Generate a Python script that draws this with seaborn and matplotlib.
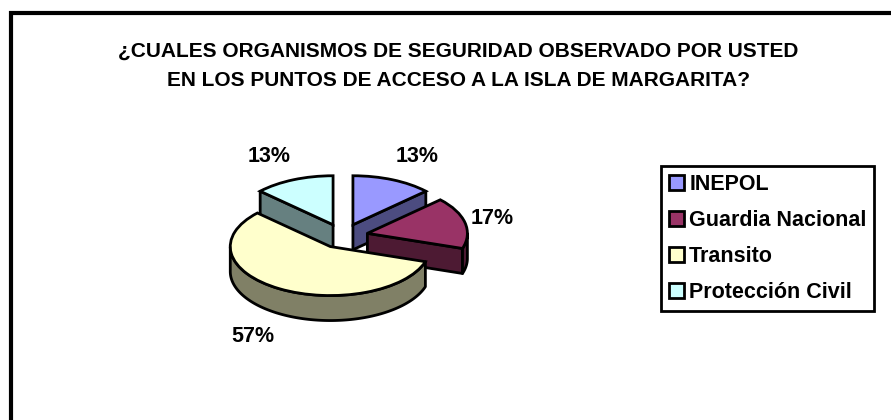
import matplotlib
matplotlib.use('Agg')
import matplotlib.pyplot as plt
from matplotlib.lines import Line2D
from matplotlib.patches import Polygon
import numpy as np
import seaborn as sns

title = '¿CUALES ORGANISMOS DE SEGURIDAD OBSERVADO POR USTED\nEN LOS PUNTOS DE ACCESO A LA ISLA DE MARGARITA?'
categories = ['INEPOL', 'Guardia Nacional', 'Transito', 'Protección Civil']
values = [13, 17, 57, 13]
colors = ['#9999FF', '#993366', '#FFFFCC', '#CCFFFF']
side_colors = ['#4C4C80', '#4D1A33', '#808066', '#668080']

W, H = 891, 420
sns.set_theme(style='white')
plt.rcParams['font.family'] = ['Liberation Sans', 'DejaVu Sans']
plt.rcParams['font.weight'] = 'bold'

fig = plt.figure(figsize=(W / 100, H / 100), dpi=100)
ax = fig.add_axes([0, 0, 1, 1])

# pie is squashed to look 3D, one data unit = rx px across, ry px down
rx, ry = 100, 49
cx, cy = 343, 236
depth = 25 / ry

wedges, texts = ax.pie(values, colors=colors, startangle=90, counterclock=False,
                       explode=[0.25] * 4, radius=1,
                       wedgeprops={'edgecolor': 'black', 'linewidth': 2, 'zorder': 5})
ax.set_aspect('auto')
ax.set_xlim(-cx / rx, (W - cx) / rx)
ax.set_ylim(-(H - cy) / ry, cy / ry)
ax.axis('off')


def side_face(pts, color, z):
    pts = np.array(pts)
    low = pts - [0, depth]
    ax.add_patch(Polygon(np.vstack([pts, low[::-1]]), closed=True, facecolor=color,
                         edgecolor='black', linewidth=2, joinstyle='round', zorder=z))


# back slices first so the front ones cover them
order = [3, 0, 1, 2]
for n, i in enumerate(order):
    w = wedges[i]
    z = 2 + n
    c = np.array(w.center)
    w.set_zorder(z + 0.5)
    # flat cut faces that point to the viewer
    for ang, normal in [(w.theta1, w.theta1 - 90), (w.theta2, w.theta2 + 90)]:
        if np.sin(np.radians(normal)) < -1e-6:
            a = np.radians(ang)
            side_face([c, c + [np.cos(a), np.sin(a)]], side_colors[i], z)
    # rim
    th = np.radians(np.linspace(w.theta1, w.theta2, 200))
    th = th[np.sin(th) < 0]
    if len(th) > 1:
        side_face(c + np.column_stack([np.cos(th), np.sin(th)]), side_colors[i], z)

# value labels
label_px = [(417, 157), (492, 219), (253, 336), (269, 157)]
label_txt = [f'{v}%' for v in values]
for (px, py), t in zip(label_px, label_txt):
    ax.text((px - cx) / rx, (cy - py) / ry, t, ha='center', va='center', fontsize=15.5,
            fontweight='bold', color='black', zorder=10)

fig.text(458.5 / W, 1 - 66 / H, title, ha='center', va='center', fontsize=15,
         fontweight='bold', color='black', linespacing=1.65)

# outer frame, only left and top are inside the image
fig.add_artist(Line2D([11 / W, 11 / W, 1.01], [-0.01, 1 - 13 / H, 1 - 13 / H], color='black',
                      linewidth=3, solid_joinstyle='miter', transform=fig.transFigure))

leg = fig.legend(wedges, categories, loc='upper left', bbox_to_anchor=(661 / W, 1 - 166 / H),
                 fontsize=15.5, frameon=True, fancybox=False, framealpha=1, edgecolor='black',
                 labelcolor='black', handlelength=0.7, handleheight=0.7, handletextpad=0.25,
                 labelspacing=0.7, borderpad=0.36, borderaxespad=0)
leg.get_frame().set_linewidth(2)
for h in leg.get_patches():
    h.set_linewidth(2)

fig.savefig('out.png', dpi=100)
